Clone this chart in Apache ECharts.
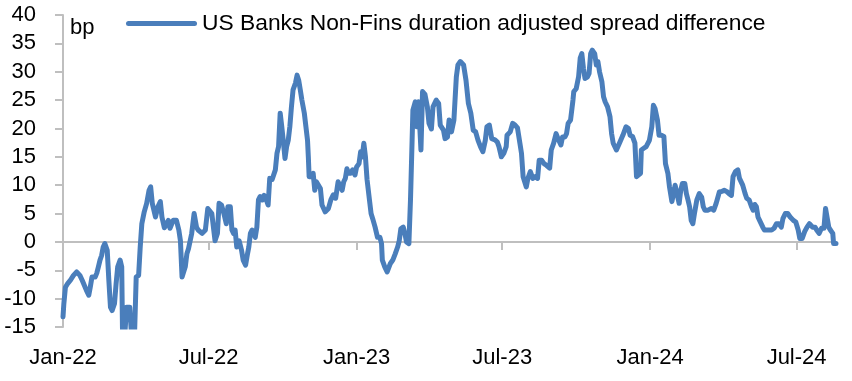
<!DOCTYPE html>
<html>
<head>
<meta charset="utf-8">
<script src="https://cdn.jsdelivr.net/npm/echarts@6/dist/echarts.min.js"></script>
<style>
html,body{margin:0;padding:0;background:#fff;}
#chart{width:852px;height:381px;}
</style>
</head>
<body>
<div id="chart"></div>
<script>
// x positions: days since 2022-01-01
var dayOffsets = [0,1,3,6,9,13,17,21,24,26,29,32,34,36,40,42,44,46,48,50,52,55,57,59,61,64,66,68,71,73,74,77,79,83,85,89,91,94,96,98,101,104,107,109,111,115,118,121,123,126,128,131,133,137,141,144,146,148,150,152,154,156,158,160,163,166,168,173,177,180,185,187,189,192,194,197,200,203,205,208,210,212,214,216,219,222,224,227,229,231,233,235,237,239,241,243,245,248,250,252,255,257,260,262,264,266,268,270,272,274,276,278,280,282,284,286,289,291,293,295,297,300,302,304,305,306,309,311,313,315,317,320,322,326,330,333,336,339,342,344,347,349,351,353,355,358,360,363,365,368,370,372,374,376,378,381,383,385,388,391,394,396,397,400,403,407,410,413,416,418,420,423,425,427,430,432,434,435,438,440,442,444,445,447,450,453,455,458,460,464,467,469,473,475,478,480,483,486,489,491,494,498,501,504,507,510,513,516,519,522,525,527,530,533,537,540,542,545,548,551,552,556,559,562,565,568,570,572,576,578,581,584,587,590,592,595,598,601,605,607,610,613,616,619,621,624,626,628,631,634,635,638,641,643,645,647,649,652,654,656,658,661,663,665,667,670,672,674,677,680,682,684,688,692,696,700,703,705,708,711,713,715,718,719,722,725,729,732,734,736,739,741,744,747,749,752,754,757,759,761,763,766,768,770,773,775,777,779,781,783,785,788,791,794,796,798,802,806,809,812,816,819,822,825,828,831,833,836,839,841,845,848,850,853,856,858,860,862,864,866,870,872,877,881,884,887,890,893,895,898,901,904,908,911,914,916,919,922,925,928,932,935,937,940,943,946,948,950,952,954,957,958,961];
var spreadDiff = [-13.2,-11,-8,-7.3,-6.8,-5.9,-5.3,-5.9,-6.8,-6.5,-8.5,-9.4,-7.9,-6.2,-6.2,-5.5,-4.4,-3.2,-2.4,-0.9,-0.3,-1.5,-6.8,-11.5,-12.1,-10.9,-7.4,-4.4,-3.2,-4.4,-16,-16,-11.5,-11.5,-16,-16,-6.2,-5.9,-0.9,3.2,5.3,6.8,9.1,9.7,6.8,4.4,6.2,7.1,4.4,2.5,2.6,3.8,2.4,3.8,3.8,2.1,0.2,-6.2,-6.5,-4.4,-2.1,-1.2,-1,1.5,5,2.6,2.1,1.5,2.1,5.9,5,2.6,0.2,1.5,6.8,6.5,5,3.2,6.2,6.2,2.1,1.5,2.1,-0.9,0.2,-1.5,-3.2,-4.1,-2.4,-0.9,1.5,2.1,2.1,0.8,2.6,7.4,8,7.4,8.2,7.7,6.5,11.2,11,11,12.7,15.6,16.8,22.7,20.3,17.6,14.7,16.8,17.9,20.3,23.8,26.8,28,29.4,28.5,26.8,25,22.7,20.3,17.9,15,11.5,11.5,12.1,9.1,10.6,10.6,9.4,6.5,5.3,5.9,7.4,8.3,7.7,10.6,10.6,9.1,10.6,11.2,12.9,12.1,12.1,12.7,11.8,13.2,13.8,15.9,15,17.4,15,11,7.4,5,4.1,2.6,0.8,0.8,-0.3,-3.2,-4.4,-5.3,-3.8,-3.2,-2.1,-0.9,0.2,2.3,2.6,1.5,0,-0.3,7.4,17.9,23.2,24.7,20.3,24.7,24.4,16.2,26.5,26,23.8,20.9,19.9,23.8,25,24.4,20.6,19.7,18.2,18.5,21.5,19.4,21.5,29.1,31.2,31.8,31.2,28.5,24.4,22.7,19.7,19.4,17.9,16.8,15.9,17.9,20.3,20.6,18.2,18,17.6,16.8,15,15.6,16.8,18.8,19.4,20.9,20.6,20.1,17.4,15.6,11.5,9.7,11.2,12.4,11.2,11.5,11.2,14.4,14.4,13.8,13.5,13,16.2,17.4,19.1,18,17.1,18.5,18.5,19.1,20.9,21.5,25,26.5,27,29.1,32.4,33.2,30.6,28.8,29.1,29.7,33.2,33.8,33.2,31.2,31.8,30,28.2,25.6,24.7,23.8,22.1,19.1,17.4,16.2,17.5,18.8,20.3,20,18.8,18.6,17.4,11.5,11.2,12.1,16.2,16.5,16.8,17.9,20.3,24.1,23.5,21.5,18.8,18.8,18.6,13.8,12.1,9.7,7.1,7.4,10,10,6.8,9.1,10.3,10.3,8.5,7.4,6.2,3.8,3.2,5,7.4,8.5,7.9,6.2,5.6,5.6,5.9,5.6,6.8,8.8,8.9,9.1,8.9,8.5,8.2,11.5,12.4,12.7,11.2,10,8.5,7.7,7.4,6.2,5.6,6.6,6.2,4.4,3.8,2.6,2.1,2.1,2.1,2.4,3.2,3.2,2.6,4.1,5,5,4.4,3.8,3.5,2.1,0.6,0.6,1.8,2.6,3.2,2.6,2.6,2.1,1.5,2.4,2.4,5.9,5.6,2.6,2.1,1.5,-0.3,-0.3];
var tickDates = ['2022-01-01','2022-07-01','2023-01-01','2023-07-01','2024-01-01','2024-07-01'];
var tickLabels = ['Jan-22','Jul-22','Jan-23','Jul-23','Jan-24','Jul-24'];
var yTicks = [-15,-10,-5,0,5,10,15,20,25,30,35,40];
var seriesName = 'US Banks Non-Fins duration adjusted spread difference';
var unitLabel = 'bp';
var startDate = '2022-01-01';
var endDay = 961;

var DAY = 86400000;
var t0 = Date.parse(startDate);
var tickDays = tickDates.map(function(d){ return Math.round((Date.parse(d) - t0) / DAY); });
var seriesData = dayOffsets.map(function(d, i){ return [d, spreadDiff[i]]; });
var FONT = "'Liberation Sans', Arial, sans-serif";
var AXIS_GRAY = '#bfbfbf';
var LINE_BLUE = '#4a7ebb';
var LEGEND_ICON = 'path://M0,2.5A2.5,2.5,0,0,1,2.5,0H68.5A2.5,2.5,0,0,1,68.5,5H2.5A2.5,2.5,0,0,1,0,2.5Z';

var chart = echarts.init(document.getElementById('chart'), null, {renderer: 'canvas'});
chart.setOption({
  animation: false,
  backgroundColor: '#ffffff',
  textStyle: {fontFamily: FONT},
  title: {
    text: unitLabel, left: 65, top: 12,
    textStyle: {fontFamily: FONT, fontSize: 22, fontWeight: 'normal', color: '#000'}
  },
  legend: {
    left: 126, top: 12, padding: 0,
    itemWidth: 71, itemHeight: 5,
    textStyle: {fontFamily: FONT, fontSize: 22.8, color: '#000'},
    data: [{name: seriesName, icon: LEGEND_ICON, itemStyle: {color: LINE_BLUE}}]
  },
  grid: {left: 63, right: 16, top: 15, bottom: 54, containLabel: false, outerBoundsMode: 'none'},
  xAxis: [{
    type: 'value',
    min: 0, max: endDay,
    axisLine: {onZero: true, lineStyle: {color: AXIS_GRAY, width: 2}},
    axisTick: {show: true, inside: false, length: 8, customValues: tickDays, lineStyle: {color: AXIS_GRAY, width: 2}},
    axisLabel: {show: false},
    splitLine: {show: false}
  }, {
    type: 'value',
    position: 'bottom',
    min: 0, max: endDay,
    axisLine: {show: false, onZero: false},
    axisTick: {show: false},
    axisLabel: {
      customValues: tickDays, margin: 20,
      fontFamily: FONT, fontSize: 22, color: '#000',
      showMinLabel: true, showMaxLabel: true, hideOverlap: false,
      formatter: function(v){
        var i = tickDays.indexOf(Math.round(v));
        return i >= 0 ? tickLabels[i] : '';
      }
    },
    splitLine: {show: false}
  }],
  yAxis: {
    type: 'value', min: yTicks[0], max: yTicks[yTicks.length - 1], interval: 5,
    axisLine: {show: true, lineStyle: {color: AXIS_GRAY, width: 2}},
    axisTick: {show: true, inside: false, length: 8, lineStyle: {color: AXIS_GRAY, width: 2}},
    axisLabel: {margin: 27, fontFamily: FONT, fontSize: 22, color: '#000', padding: [5, 0, 0, 0], showMinLabel: true, showMaxLabel: true, hideOverlap: false},
    splitLine: {show: false}
  },
  series: [{
    name: seriesName,
    type: 'line',
    xAxisIndex: 0,
    data: seriesData,
    symbol: 'none',
    showSymbol: false,
    clip: true,
    lineStyle: {color: LINE_BLUE, width: 5, cap: 'round', join: 'round'},
    itemStyle: {color: LINE_BLUE}
  }]
});
</script>
</body>
</html>
